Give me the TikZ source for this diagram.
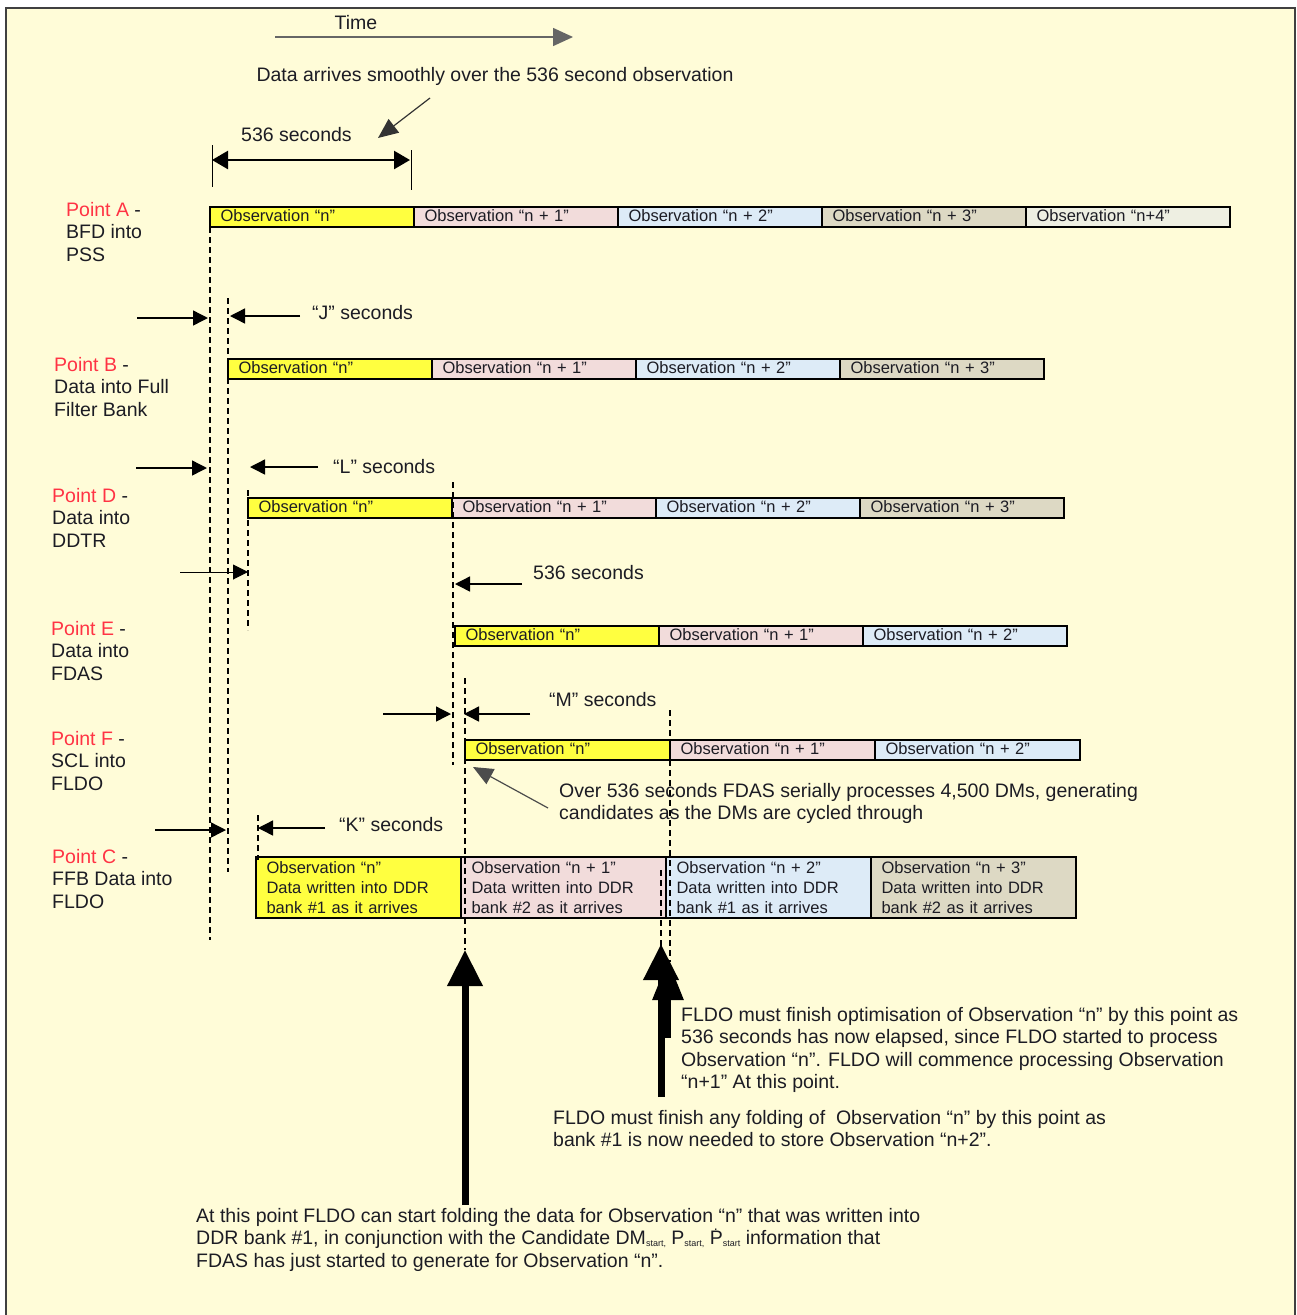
\documentclass[tikz,border=0pt]{standalone}
\usepackage{fontspec}
\setmainfont{Liberation Sans}
\usetikzlibrary{arrows.meta}

\definecolor{bg}{HTML}{FFFCD8}
\definecolor{frame}{HTML}{404040}
\definecolor{ink}{HTML}{1C1C24}
\definecolor{ptred}{HTML}{FF3344}
\definecolor{cy}{HTML}{FFFF40}
\definecolor{cp}{HTML}{F2DCDB}
\definecolor{cb}{HTML}{DDEBF7}
\definecolor{ct}{HTML}{DDD9C4}
\definecolor{cg}{HTML}{EEEFE2}

\newcommand\bigtxt{\fontsize{19.5}{22.5}\selectfont}
\newcommand\obstxt{\fontsize{16.5}{20}\selectfont}
\newcommand\subtxt[1]{\raisebox{-2pt}{\fontsize{9}{9}\selectfont #1}}
\newcommand\pdot{\makebox[0pt][l]{\kern0.2em\raisebox{0.74em}{\fontsize{14}{14}\selectfont .}}P}
\newcommand\pt[1]{\textcolor{ptred}{Point #1} -}

\begin{document}
\begin{tikzpicture}[x=1pt,y=-1pt,
  lbl/.style={anchor=north west, inner sep=0pt, align=left, font=\bigtxt, text=ink},
  txt/.style={anchor=base west, inner sep=0pt, font=\bigtxt, text=ink},
  obs/.style={draw=black, line width=1.3pt, anchor=north west, minimum height=20pt,
    text width=183pt, inner xsep=10.5pt, inner ysep=0pt, outer sep=0pt, align=left,
    font=\obstxt, text=ink, text height=11.5pt, text depth=3.5pt},
  obsc/.style={draw=black, line width=1.3pt, anchor=north west, minimum height=61pt,
    text width=184pt, inner xsep=10.5pt, inner ysep=0pt, outer sep=0pt, align=left,
    font=\obstxt, text=ink},
  wide/.style={text width=184pt},
  dsh/.style={draw=black, line width=1.1pt, dash pattern=on 6pt off 4pt},
  gap/.style={draw=black, line width=1.4pt, -{Triangle[length=15pt,width=15pt]}},
  bigarrow/.style={draw=black, line width=7pt, -{Triangle[length=36pt,width=34pt]}}
]
\useasboundingbox (0,0) rectangle (1297,1315);
\fill[white] (0,0) rectangle (1297,1315);
\draw[fill=bg, draw=frame, line width=2pt] (6,8) rectangle (1295,1335);

% ---- time axis and the observation length ----
\node[txt, anchor=base] (time) at (356,29) {Time};
\coordinate (t0) at (275,37);
\coordinate (t1) at (573,37);
\draw[draw=gray!80!black, line width=1.5pt, -{Triangle[length=20pt,width=18pt]}] (t0) -- (t1);

\node[txt, anchor=base] (smooth) at (495,81) {Data arrives smoothly over the 536 second observation};
\coordinate (s0) at (430,98);
\coordinate (s1) at (378,138);
\draw[draw=black!80, line width=1.2pt, -{Triangle[length=20pt,width=17pt]}] (s0) -- (s1);

\node[txt] (len) at (241,141) {536 seconds};
\coordinate (l0) at (212,160);
\coordinate (l1) at (410,160);
\draw[line width=2.5pt, {Triangle[length=16pt,width=18pt]}-{Triangle[length=16pt,width=18pt]}] (l0) -- (l1);
\draw[line width=1pt] (212,145) -- (212,187);
\draw[line width=1pt] (411,150) -- (411,190);

% ---- row labels ----
\node[lbl] (labA) at (66,202) {\pt{A}\\BFD into\\PSS};
\node[lbl] (labB) at (54,357) {\pt{B}\\Data into Full\\Filter Bank};
\node[lbl] (labD) at (52,488) {\pt{D}\\Data into\\DDTR};
\node[lbl] (labE) at (51,621) {\pt{E}\\Data into\\FDAS};
\node[lbl] (labF) at (51,731) {\pt{F}\\SCL into\\FLDO};
\node[lbl] (labC) at (52,849) {\pt{C}\\FFB Data into\\FLDO};

% ---- Point A ----
\node[obs, fill=cy] (A0) at (210,207) {Observation “n”};
\node[obs, fill=cp] (A1) at (A0.north east) {Observation “n + 1”};
\node[obs, fill=cb] (A2) at (A1.north east) {Observation “n + 2”};
\node[obs, fill=ct] (A3) at (A2.north east) {Observation “n + 3”};
\node[obs, fill=cg] (A4) at (A3.north east) {Observation “n+4”};

% ---- Point B ----
\node[obs, fill=cy] (B0) at (228,359) {Observation “n”};
\node[obs, fill=cp] (B1) at (B0.north east) {Observation “n + 1”};
\node[obs, fill=cb] (B2) at (B1.north east) {Observation “n + 2”};
\node[obs, fill=ct] (B3) at (B2.north east) {Observation “n + 3”};

% ---- Point D ----
\node[obs, fill=cy] (D0) at (248,498) {Observation “n”};
\node[obs, fill=cp] (D1) at (D0.north east) {Observation “n + 1”};
\node[obs, fill=cb] (D2) at (D1.north east) {Observation “n + 2”};
\node[obs, fill=ct] (D3) at (D2.north east) {Observation “n + 3”};

% ---- Point E ----
\node[obs, fill=cy] (E0) at (455,626) {Observation “n”};
\node[obs, fill=cp] (E1) at (E0.north east) {Observation “n + 1”};
\node[obs, fill=cb] (E2) at (E1.north east) {Observation “n + 2”};

% ---- Point F ----
\node[obs, wide, fill=cy] (F0) at (465,740) {Observation “n”};
\node[obs, wide, fill=cp] (F1) at (F0.north east) {Observation “n + 1”};
\node[obs, wide, fill=cb] (F2) at (F1.north east) {Observation “n + 2”};

% ---- Point C ----
\node[obsc, fill=cy] (C0) at (256,857) {Observation “n”\\Data written into DDR\\bank \#1 as it arrives};
\node[obsc, fill=cp] (C1) at (C0.north east) {Observation “n + 1”\\Data written into DDR\\bank \#2 as it arrives};
\node[obsc, fill=cb] (C2) at (C1.north east) {Observation “n + 2”\\Data written into DDR\\bank \#1 as it arrives};
\node[obsc, fill=ct] (C3) at (C2.north east) {Observation “n + 3”\\Data written into DDR\\bank \#2 as it arrives};

% ---- dashed time markers ----
\draw[dsh] (A0.south west) -- (210,940);
\draw[dsh] (228,298) -- (228,872);
\draw[dsh] (248,490) -- (248,630);
\draw[dsh] (453,482) -- (453,765);
\draw[dsh] (465,678) -- (465,950);
\draw[dsh] (670,710) -- (670,962);
\draw[dsh] (661,870) -- (661,946);
\draw[dsh] (258,815) -- (258,860);

% ---- delay markers ----
\draw[gap] (137,318) -- (208,318);
\draw[gap] (300,316) -- (230,316);
\node[txt] (J) at (312,319) {“J” seconds};

\draw[gap] (136,468) -- (207,468);
\draw[gap] (318,467) -- (250,467);
\node[txt] (L) at (333,473) {“L” seconds};

\draw[gap, line width=1pt] (180,572) -- (248,572);

\draw[gap] (522,584) -- (455,584);
\node[txt] (S) at (533,579) {536 seconds};

\draw[gap] (383,714) -- (451,714);
\draw[gap] (530,714) -- (464,714);
\node[txt] (M) at (549,706) {“M” seconds};

\draw[gap] (155,830) -- (226,830);
\draw[gap] (325,828) -- (258,828);
\node[txt] (K) at (339,831) {“K” seconds};

% ---- FDAS note ----
\node[lbl] (over) at (559,783) {Over 536 seconds FDAS serially processes 4,500 DMs, generating\\candidates as the DMs are cycled through};
\coordinate (o0) at (548,808);
\coordinate (o1) at (473,767);
\draw[draw=black!70, line width=1.2pt, -{Triangle[length=20pt,width=17pt]}] (o0) -- (o1);

% ---- FLDO milestones ----
\coordinate (ba0) at (465,1205);
\coordinate (ba1) at (465,950);
\draw[bigarrow] (ba0) -- (ba1);
\coordinate (bb0) at (661,1097);
\coordinate (bb1) at (661,944);
\draw[bigarrow] (bb0) -- (bb1);
\coordinate (bc0) at (668,1038);
\coordinate (bc1) at (668,960);
\draw[bigarrow, line width=6pt, -{Triangle[length=40pt,width=30pt]}] (bc0) -- (bc1);

\node[lbl] (opt) at (681,1007) {FLDO must finish optimisation of Observation “n” by this point as\\536 seconds has now elapsed, since FLDO started to process\\Observation “n”. FLDO will commence processing Observation\\“n+1” At this point.};
\node[lbl] (fold) at (553,1110) {FLDO must finish any folding of\ \ Observation “n” by this point as\\bank \#1 is now needed to store Observation “n+2”.};
\node[lbl] (start) at (196,1208) {At this point FLDO can start folding the data for Observation “n” that was written into\\DDR bank \#1, in conjunction with the Candidate DM\subtxt{start,} P\subtxt{start,} \pdot\subtxt{start} information that\\FDAS has just started to generate for Observation “n”.};
\end{tikzpicture}
\end{document}
